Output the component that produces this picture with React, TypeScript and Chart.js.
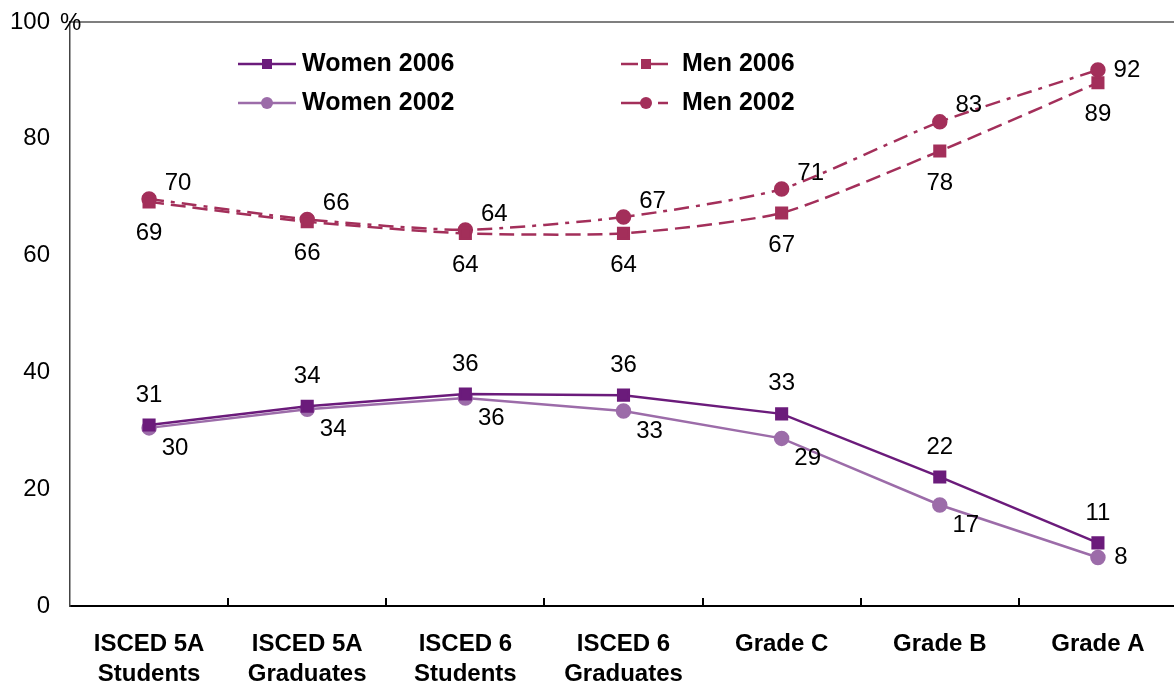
import React, { useEffect, useRef } from "react";
import { Chart, registerables } from "chart.js";

Chart.register(...registerables);

const categories: string[][] = [
  ["ISCED 5A", "Students"],
  ["ISCED 5A", "Graduates"],
  ["ISCED 6", "Students"],
  ["ISCED 6", "Graduates"],
  ["Grade C"],
  ["Grade B"],
  ["Grade A"],
];

const women2006: number[] = [31.0, 34.2, 36.3, 36.1, 32.9, 22.1, 10.8];
const women2002: number[] = [30.5, 33.7, 35.6, 33.4, 28.7, 17.3, 8.3];
const men2006: number[] = [69.2, 65.8, 63.8, 63.8, 67.3, 77.9, 89.6];
const men2002: number[] = [69.7, 66.2, 64.4, 66.6, 71.4, 82.9, 91.8];

const women2006Labels: string[] = ["31", "34", "36", "36", "33", "22", "11"];
const women2002Labels: string[] = ["30", "34", "36", "33", "29", "17", "8"];
const men2006Labels: string[] = ["69", "66", "64", "64", "67", "78", "89"];
const men2002Labels: string[] = ["70", "66", "64", "67", "71", "83", "92"];

const yTicks: number[] = [0, 20, 40, 60, 80, 100];

const FONT = '"Liberation Sans", Arial, Helvetica, sans-serif';
const C_W06 = "#6B1B7B";
const C_W02 = "#9C6CA9";
const C_MEN = "#A32F5A";

// label offset styles (dx, dy) per dataset, with optional override for the last point
const labelStyle = [
  { dx: 0, dy: -30, last: null as null | { dx: number; dy: number } },
  { dx: 26, dy: 20, last: { dx: 23, dy: 0 } },
  { dx: 0, dy: 32, last: null },
  { dx: 29, dy: -16, last: { dx: 29, dy: 0 } },
];

const datasetLabels = [women2006Labels, women2002Labels, men2006Labels, men2002Labels];

const legendItems = [
  { text: "Women 2006", color: C_W06, style: "rect", x1: 238, x2: 296, mx: 267, tx: 302, y: 64 },
  { text: "Women 2002", color: C_W02, style: "circle", x1: 238, x2: 296, mx: 267, tx: 302, y: 103 },
  { text: "Men 2006", color: C_MEN, style: "rect", x1: 621, x2: 668, mx: 646, tx: 682, y: 64 },
  { text: "Men 2002", color: C_MEN, style: "circle", x1: 621, x2: 668, mx: 646, tx: 682, y: 103 },
];

const customPlugin = {
  id: "customDraw",
  afterDraw(chart: any) {
    const ctx = chart.ctx;
    const area = chart.chartArea;
    const xs = chart.scales.x;
    ctx.save();
    // top border
    ctx.strokeStyle = "#555";
    ctx.lineWidth = 1.5;
    ctx.beginPath();
    ctx.moveTo(area.left, area.top);
    ctx.lineTo(area.right, area.top);
    ctx.stroke();
    // inward ticks at category boundaries
    ctx.strokeStyle = "#000";
    ctx.lineWidth = 2;
    for (let i = 0; i < categories.length - 1; i++) {
      const bx = (xs.getPixelForValue(i) + xs.getPixelForValue(i + 1)) / 2;
      ctx.beginPath();
      ctx.moveTo(Math.round(bx), area.bottom);
      ctx.lineTo(Math.round(bx), area.bottom - 8);
      ctx.stroke();
    }
    // percent sign
    ctx.fillStyle = "#000";
    ctx.font = `24px ${FONT}`;
    ctx.textAlign = "left";
    ctx.textBaseline = "middle";
    ctx.fillText("%", 60, area.top + 1);
    // data labels
    ctx.textAlign = "center";
    chart.data.datasets.forEach((ds: any, di: number) => {
      const meta = chart.getDatasetMeta(di);
      const st = labelStyle[di];
      meta.data.forEach((el: any, i: number) => {
        const off = i === meta.data.length - 1 && st.last ? st.last : st;
        ctx.fillText(datasetLabels[di][i], el.x + off.dx, el.y + off.dy);
      });
    });
    // legend
    legendItems.forEach((it, idx) => {
      ctx.strokeStyle = it.color;
      ctx.fillStyle = it.color;
      ctx.lineWidth = 2.5;
      ctx.setLineDash([]);
      ctx.beginPath();
      if (idx === 3) {
        ctx.moveTo(it.x1, it.y);
        ctx.lineTo(it.mx, it.y);
        ctx.moveTo(it.mx + 12, it.y);
        ctx.lineTo(it.x2, it.y);
      } else if (idx === 2) {
        ctx.moveTo(it.x1, it.y);
        ctx.lineTo(it.x1 + 17, it.y);
        ctx.moveTo(it.x2 - 17, it.y);
        ctx.lineTo(it.x2, it.y);
      } else {
        ctx.moveTo(it.x1, it.y);
        ctx.lineTo(it.x2, it.y);
      }
      ctx.stroke();
      ctx.beginPath();
      if (it.style === "rect") {
        ctx.rect(it.mx - 5, it.y - 5, 10, 10);
      } else {
        ctx.arc(it.mx, it.y, 6, 0, Math.PI * 2);
      }
      ctx.fill();
      ctx.fillStyle = "#000";
      ctx.font = `bold 25px ${FONT}`;
      ctx.textAlign = "left";
      ctx.textBaseline = "middle";
      ctx.fillText(it.text, it.tx, it.y);
    });
    ctx.restore();
  },
};

export default function App() {
  const ref = useRef<HTMLCanvasElement | null>(null);
  useEffect(() => {
    if (!ref.current) return;
    const chart = new Chart(ref.current, {
      type: "line",
      data: {
        labels: categories,
        datasets: [
          {
            label: "Women 2006",
            data: women2006,
            borderColor: C_W06,
            backgroundColor: C_W06,
            borderWidth: 2.5,
            pointStyle: "rect",
            pointRadius: 7.5,
            pointHoverRadius: 7.5,
            tension: 0,
          },
          {
            label: "Women 2002",
            data: women2002,
            borderColor: C_W02,
            backgroundColor: C_W02,
            borderWidth: 2.5,
            pointStyle: "circle",
            pointRadius: 6.5,
            pointHoverRadius: 6.5,
            tension: 0,
          },
          {
            label: "Men 2006",
            data: men2006,
            borderColor: C_MEN,
            backgroundColor: C_MEN,
            borderWidth: 2.5,
            borderDash: [15, 7],
            pointStyle: "rect",
            pointRadius: 7.5,
            pointHoverRadius: 7.5,
            tension: 0.2,
          },
          {
            label: "Men 2002",
            data: men2002,
            borderColor: C_MEN,
            backgroundColor: C_MEN,
            borderWidth: 2.5,
            borderDash: [15, 7, 4, 7],
            pointStyle: "circle",
            pointRadius: 6.5,
            pointHoverRadius: 6.5,
            tension: 0.2,
          },
        ],
      },
      options: {
        responsive: false,
        animation: false,
        events: [],
        layout: { padding: { top: 22, right: 0, left: 0, bottom: 0 } },
        plugins: {
          legend: { display: false },
          tooltip: { enabled: false },
        },
        scales: {
          x: {
            type: "category",
            offset: true,
            grid: { display: false },
            border: { display: true, color: "#000", width: 2 },
            ticks: {
              color: "#000",
              font: { family: FONT, size: 24, weight: "bold", lineHeight: 1.25 },
              padding: 15,
              maxRotation: 0,
              autoSkip: false,
            },
            afterFit: (s: any) => {
              s.height = 81;
              s.paddingLeft = 0;
              s.paddingRight = 0;
            },
          },
          y: {
            min: 0,
            max: 100,
            afterBuildTicks: (s: any) => {
              s.ticks = yTicks.map((v) => ({ value: v }));
            },
            grid: { display: false },
            border: { display: true, color: "#444", width: 1.5 },
            ticks: {
              color: "#000",
              font: { family: FONT, size: 24 },
              padding: 12,
            },
            afterFit: (s: any) => {
              s.width = 70;
              s.paddingTop = 0;
              s.paddingBottom = 0;
            },
          },
        },
      },
      plugins: [customPlugin],
    });
    return () => chart.destroy();
  }, []);
  return (
    <div
      style={{
        position: "absolute",
        left: 0,
        top: 0,
        width: 1174,
        height: 687,
        overflow: "hidden",
      }}
    >
      <canvas
        ref={ref}
        width={1187}
        height={687}
        style={{ display: "block", width: 1187, height: 687 }}
      />
    </div>
  );
}
